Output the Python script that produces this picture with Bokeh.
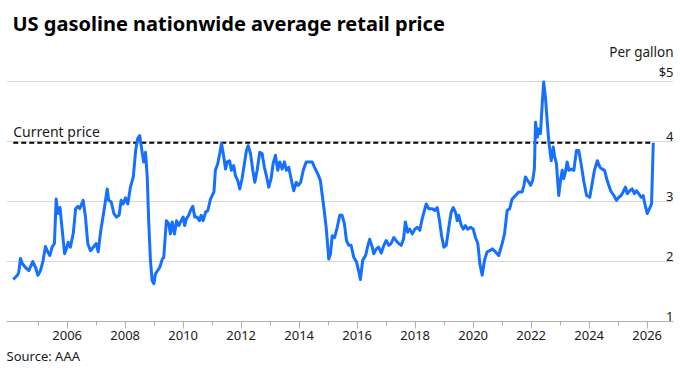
from bokeh.plotting import figure
from bokeh.models import FixedTicker, Title, ColumnDataSource
from bokeh.core.properties import value
from bokeh.embed import file_html
from bokeh.resources import INLINE

# ---- data ----
years = [
    2004.14, 2004.28, 2004.33, 2004.39, 2004.45, 2004.56, 2004.68, 2004.81, 2004.91, 2004.99,
    2005.08, 2005.17, 2005.25, 2005.33, 2005.40, 2005.48, 2005.56, 2005.62, 2005.68, 2005.75,
    2005.83, 2005.91, 2005.98, 2006.03, 2006.11, 2006.21, 2006.29, 2006.37, 2006.43, 2006.55,
    2006.63, 2006.71, 2006.80, 2006.92, 2007.00, 2007.07, 2007.15, 2007.26, 2007.38, 2007.43,
    2007.52, 2007.61, 2007.70, 2007.79, 2007.86, 2007.93, 2008.01, 2008.09, 2008.18, 2008.28,
    2008.36, 2008.43, 2008.50, 2008.59, 2008.64, 2008.70, 2008.76, 2008.81, 2008.87, 2008.93,
    2008.99, 2009.04, 2009.12, 2009.19, 2009.28, 2009.33, 2009.42, 2009.50, 2009.56, 2009.62,
    2009.70, 2009.77, 2009.85, 2009.93, 2010.00, 2010.05, 2010.11, 2010.19, 2010.25, 2010.33,
    2010.40, 2010.48, 2010.56, 2010.62, 2010.69, 2010.77, 2010.85, 2010.94, 2011.06, 2011.11,
    2011.19, 2011.26, 2011.32, 2011.40, 2011.46, 2011.52, 2011.60, 2011.66, 2011.74, 2011.80,
    2011.88, 2011.95, 2012.03, 2012.11, 2012.18, 2012.24, 2012.32, 2012.40, 2012.47, 2012.55,
    2012.64, 2012.72, 2012.80, 2012.87, 2012.95, 2013.03, 2013.10, 2013.18, 2013.26, 2013.33,
    2013.41, 2013.49, 2013.56, 2013.64, 2013.72, 2013.81, 2013.90, 2013.97, 2014.05, 2014.14,
    2014.24, 2014.33, 2014.45, 2014.53, 2014.64, 2014.73, 2014.85, 2014.93, 2015.02, 2015.08,
    2015.14, 2015.22, 2015.31, 2015.40, 2015.48, 2015.56, 2015.63, 2015.71, 2015.79, 2015.88,
    2015.98, 2016.06, 2016.11, 2016.19, 2016.29, 2016.37, 2016.43, 2016.52, 2016.57, 2016.66,
    2016.74, 2016.83, 2016.92, 2017.00, 2017.09, 2017.17, 2017.26, 2017.34, 2017.43, 2017.52,
    2017.60, 2017.66, 2017.74, 2017.81, 2017.90, 2017.99, 2018.07, 2018.16, 2018.24, 2018.32,
    2018.38, 2018.47, 2018.59, 2018.67, 2018.76, 2018.84, 2018.91, 2018.99, 2019.07, 2019.16,
    2019.24, 2019.31, 2019.39, 2019.45, 2019.50, 2019.59, 2019.66, 2019.73, 2019.81, 2019.91,
    2020.00, 2020.08, 2020.16, 2020.23, 2020.31, 2020.39, 2020.48, 2020.57, 2020.66, 2020.77,
    2020.88, 2021.00, 2021.08, 2021.17, 2021.26, 2021.34, 2021.46, 2021.57, 2021.69, 2021.75,
    2021.80, 2021.88, 2021.98, 2022.05, 2022.11, 2022.15, 2022.21, 2022.26, 2022.32, 2022.38,
    2022.43, 2022.49, 2022.55, 2022.61, 2022.69, 2022.76, 2022.80, 2022.87, 2022.95, 2023.01,
    2023.07, 2023.12, 2023.18, 2023.24, 2023.30, 2023.38, 2023.47, 2023.56, 2023.64, 2023.72,
    2023.81, 2023.91, 2024.02, 2024.10, 2024.18, 2024.28, 2024.37, 2024.45, 2024.53, 2024.62,
    2024.74, 2024.85, 2024.94, 2025.02, 2025.10, 2025.17, 2025.25, 2025.31, 2025.40, 2025.48,
    2025.56, 2025.63, 2025.71, 2025.79, 2025.86, 2025.92, 2026.00, 2026.08, 2026.15, 2026.21,
]
prices = [
    1.70, 1.77, 1.82, 2.05, 1.97, 1.90, 1.85, 2.00, 1.90, 1.77,
    1.85, 2.02, 2.25, 2.16, 2.10, 2.24, 2.30, 3.04, 2.80, 2.90,
    2.52, 2.13, 2.22, 2.32, 2.24, 2.47, 2.88, 2.92, 2.88, 3.02,
    2.74, 2.30, 2.18, 2.25, 2.30, 2.16, 2.49, 2.82, 3.21, 3.02,
    2.99, 2.80, 2.74, 2.77, 3.02, 2.96, 3.06, 2.96, 3.24, 3.41,
    3.85, 4.05, 4.10, 3.80, 3.66, 3.82, 3.41, 2.68, 2.02, 1.68,
    1.63, 1.79, 1.85, 1.90, 2.04, 2.07, 2.68, 2.63, 2.46, 2.66,
    2.46, 2.68, 2.60, 2.68, 2.74, 2.60, 2.71, 2.77, 2.85, 2.92,
    2.74, 2.74, 2.68, 2.77, 2.68, 2.82, 2.85, 3.04, 3.16, 3.52,
    3.63, 3.80, 3.97, 3.74, 3.54, 3.66, 3.68, 3.52, 3.60, 3.43,
    3.35, 3.21, 3.38, 3.63, 3.85, 3.93, 3.80, 3.52, 3.32, 3.52,
    3.82, 3.80, 3.57, 3.43, 3.24, 3.38, 3.63, 3.77, 3.52, 3.66,
    3.54, 3.66, 3.52, 3.57, 3.38, 3.18, 3.32, 3.27, 3.32, 3.52,
    3.66, 3.66, 3.66, 3.57, 3.46, 3.35, 2.90, 2.57, 2.04, 2.13,
    2.43, 2.40, 2.57, 2.77, 2.77, 2.63, 2.35, 2.27, 2.27, 2.07,
    1.99, 1.82, 1.70, 2.02, 2.10, 2.27, 2.37, 2.24, 2.13, 2.21,
    2.24, 2.14, 2.27, 2.35, 2.27, 2.30, 2.40, 2.35, 2.30, 2.27,
    2.38, 2.66, 2.49, 2.54, 2.46, 2.54, 2.57, 2.52, 2.71, 2.85,
    2.96, 2.88, 2.88, 2.85, 2.90, 2.68, 2.43, 2.24, 2.27, 2.57,
    2.82, 2.90, 2.82, 2.68, 2.77, 2.60, 2.54, 2.60, 2.54, 2.57,
    2.54, 2.40, 2.30, 1.96, 1.77, 2.02, 2.16, 2.18, 2.21, 2.16,
    2.10, 2.30, 2.46, 2.85, 2.88, 3.04, 3.10, 3.16, 3.16, 3.27,
    3.41, 3.35, 3.27, 3.35, 3.54, 4.32, 4.07, 4.21, 4.13, 4.63,
    4.99, 4.74, 4.35, 3.99, 3.68, 3.91, 3.77, 3.63, 3.10, 3.35,
    3.52, 3.38, 3.49, 3.66, 3.52, 3.54, 3.52, 3.85, 3.85, 3.63,
    3.35, 3.10, 3.07, 3.29, 3.52, 3.68, 3.57, 3.54, 3.52, 3.35,
    3.18, 3.10, 3.02, 3.07, 3.10, 3.16, 3.24, 3.13, 3.18, 3.21,
    3.13, 3.18, 3.13, 3.07, 3.10, 2.96, 2.80, 2.88, 2.96, 3.98,
]
current_price = 3.98
y_ticks = [1, 2, 3, 4, 5]
y_tick_labels = ["1", "2", "3", "4", "$5"]
x_major_ticks = list(range(2006, 2027, 2))
x_minor_ticks = list(range(2005, 2028, 2))

FONT = "Noto Sans"
TXT = "#1a1a1a"

x_start, x_end = 2003.907, 2026.907
y_start, y_end = 1.0, 5.617

p = figure(width=678, height=375, x_range=(x_start, x_end), y_range=(y_start, y_end),
           output_backend="svg", toolbar_location=None,
           min_border_left=6, min_border_right=5, min_border_top=44, min_border_bottom=54)
p.outline_line_color = None
p.background_fill_color = "white"
p.border_fill_color = "white"

# title
p.title.text = "US gasoline nationwide average retail price"
p.title.text_font = FONT
p.title.text_font_size = "20px"
p.title.text_font_style = "bold"
p.title.text_color = "black"
p.title.align = "left"
p.title.offset = 6
p.title.vertical_align = "top"
p.title.standoff = 11

# source below
p.add_layout(Title(text="Source: AAA", text_font=FONT, text_font_size="13px",
                   text_font_style="normal", text_color=TXT, align="left", offset=0,
                   standoff=9, vertical_align="top"), "below")

# y axis hidden, grid kept
p.yaxis.visible = False
p.yaxis.ticker = FixedTicker(ticks=y_ticks[1:])
p.ygrid.grid_line_color = "#d6d6d6"
p.ygrid.grid_line_width = 1
p.xgrid.visible = False

# x axis
xa = p.xaxis[0]
xa.ticker = FixedTicker(ticks=x_major_ticks, minor_ticks=x_minor_ticks)
xa.axis_line_color = "#b0b0b0"
xa.major_tick_line_color = "#b0b0b0"
xa.minor_tick_line_color = "#b0b0b0"
xa.major_tick_out = 7
xa.major_tick_in = 0
xa.minor_tick_out = 4
xa.minor_tick_in = 0
xa.major_label_text_font = FONT
xa.major_label_text_font_size = "13px"
xa.major_label_text_color = TXT
xa.major_label_standoff = 2

# y tick labels (right, above gridlines)
ylab = ColumnDataSource(dict(x=[x_end] * len(y_ticks), y=y_ticks, t=y_tick_labels))
p.text(x="x", y="y", text="t", source=ylab, text_align="right", text_baseline="bottom",
       y_offset=-1, text_font=value(FONT), text_font_size="13px", text_color=TXT)
p.text(x=[x_end], y=[y_ticks[-1]], text=["Per gallon"], text_align="right",
       text_baseline="bottom", y_offset=-21, text_font=value(FONT), text_font_size="13.5px",
       text_color=TXT)

# current price dashed line
p.line(x=[years[0], years[-1]], y=[current_price, current_price], line_color="black",
       line_width=2, line_dash="5 3")
p.text(x=[years[0]], y=[current_price], text=["Current price"], text_align="left",
       text_baseline="bottom", y_offset=-2, text_font=value(FONT), text_font_size="14px",
       text_color=TXT)

# price line
p.line(x=years, y=prices, line_color="#1670ff", line_width=3, line_join="round")

open("out.html", "w").write(file_html(p, INLINE))
